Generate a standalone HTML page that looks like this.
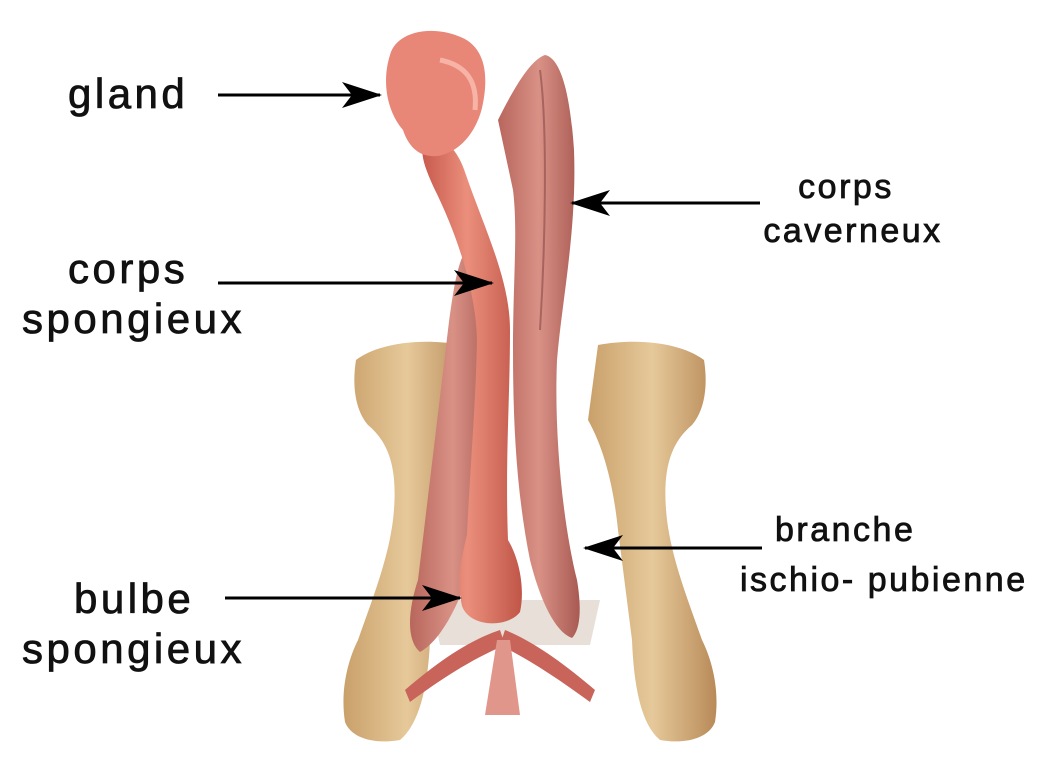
<!DOCTYPE html>
<html><head><meta charset="utf-8"><style>
html,body{margin:0;padding:0;background:#fff;}
svg{display:block}
text{font-family:"Liberation Sans",sans-serif;fill:#111;stroke:#111;stroke-width:0.8;}
</style></head><body>
<svg width="1062" height="776" viewBox="0 0 1062 776" xmlns="http://www.w3.org/2000/svg">
<defs>
<marker id="ar" viewBox="0 0 40 30" refX="38" refY="15" markerWidth="40" markerHeight="30" markerUnits="userSpaceOnUse" orient="auto">
<path d="M0,2 L40,15 L0,28 L10,15 Z" fill="#000"/>
</marker>
<linearGradient id="bone" x1="0" x2="1"><stop offset="0" stop-color="#c9a06a"/><stop offset="0.5" stop-color="#e6c99a"/><stop offset="1" stop-color="#b88a58"/></linearGradient>
<linearGradient id="sp" x1="0" x2="1"><stop offset="0" stop-color="#c85a4e"/><stop offset="0.45" stop-color="#eb8f7c"/><stop offset="1" stop-color="#c05548"/></linearGradient>
<linearGradient id="cav" x1="0" x2="1"><stop offset="0" stop-color="#b8665c"/><stop offset="0.5" stop-color="#d99186"/><stop offset="1" stop-color="#a85a52"/></linearGradient>
</defs>

<!-- bones -->
<path d="M356,360 C380,342 425,338 462,345 L470,420 C452,450 444,490 440,530 L430,640 C428,690 418,725 400,740 C378,744 352,740 345,722 C340,690 348,660 358,640 C372,600 388,560 393,520 C398,475 392,445 368,425 C355,410 352,385 356,360 Z" fill="url(#bone)"/>
<path d="M704,360 C680,342 635,338 598,345 L588,420 C605,450 614,490 618,530 L632,640 C634,690 642,725 660,740 C682,744 708,740 715,722 C720,690 712,660 702,640 C688,600 672,560 667,520 C662,475 668,445 692,425 C705,410 708,385 704,360 Z" fill="url(#bone)"/>
<path d="M430,600 L600,600 L590,645 L440,645 Z" fill="#e8e0d8"/>

<!-- left cavernosum -->
<path d="M468,248 C485,243 497,260 495,300 L472,560 C462,600 442,640 420,652 C406,640 408,610 418,580 L448,330 C453,290 458,258 468,248 Z" fill="url(#cav)"/>
<!-- right cavernosum -->
<path d="M498,120 C513,90 530,60 545,55 C560,58 570,90 574,150 C577,230 562,300 557,360 C554,430 562,520 577,580 C582,610 580,630 572,638 C555,632 540,600 530,560 C516,490 513,420 513,350 C513,280 518,230 513,190 Z" fill="url(#cav)"/>
<path d="M540,70 C548,130 545,250 540,330" stroke="#8a4a48" stroke-width="2" fill="none" opacity="0.6"/>

<!-- spongiosum -->
<path d="M425,140 C445,135 458,150 466,175 C485,230 510,280 510,330 C510,400 505,460 508,540 C520,560 525,590 520,612 C508,628 470,628 462,606 C456,580 462,555 467,535 C470,470 476,400 477,340 C476,290 456,232 434,188 C426,170 418,152 425,140 Z" fill="url(#sp)"/>

<!-- glans -->
<path d="M390,55 C396,32 430,25 458,36 C484,45 490,72 482,108 C476,132 460,152 438,156 C418,158 408,145 403,130 C386,110 382,80 390,55 Z" fill="#e88677"/>
<path d="M440,60 C465,65 478,80 475,110" stroke="#f7b3a6" stroke-width="5" fill="none"/>

<!-- bottom muscles -->
<path d="M405,690 C440,660 470,640 500,630 L505,645 C470,660 440,680 410,702 Z" fill="#c8645a"/>
<path d="M595,690 C560,660 530,640 505,630 L500,645 C530,660 560,680 590,702 Z" fill="#c8645a"/>
<path d="M497,640 L510,640 L520,715 L485,715 Z" fill="#e0968a"/>

<!-- labels -->
<text x="68" y="108" font-size="42" letter-spacing="3.5">gland</text>
<text x="68" y="283" font-size="42" letter-spacing="3.5">corps</text>
<text x="22" y="333" font-size="42" letter-spacing="3.5">spongieux</text>
<text x="74" y="613" font-size="42" letter-spacing="3.5">bulbe</text>
<text x="22" y="663" font-size="42" letter-spacing="3.5">spongieux</text>
<text x="846" y="198" font-size="34" text-anchor="middle" letter-spacing="2.5" stroke-width="0.4">corps</text>
<text x="853" y="242" font-size="34" text-anchor="middle" letter-spacing="2.5" stroke-width="0.4">caverneux</text>
<text x="775" y="541" font-size="34" letter-spacing="2.5" stroke-width="0.4">branche</text>
<text x="740" y="591" font-size="34" letter-spacing="2.5" stroke-width="0.4">ischio- pubienne</text>

<!-- arrows -->
<line x1="218" y1="95" x2="380" y2="95" stroke="#000" stroke-width="3" marker-end="url(#ar)"/>
<line x1="218" y1="283" x2="492" y2="283" stroke="#000" stroke-width="3" marker-end="url(#ar)"/>
<line x1="225" y1="598" x2="460" y2="598" stroke="#000" stroke-width="3" marker-end="url(#ar)"/>
<line x1="760" y1="203" x2="572" y2="203" stroke="#000" stroke-width="3" marker-end="url(#ar)"/>
<line x1="762" y1="548" x2="585" y2="548" stroke="#000" stroke-width="3" marker-end="url(#ar)"/>
</svg>
</body></html>
